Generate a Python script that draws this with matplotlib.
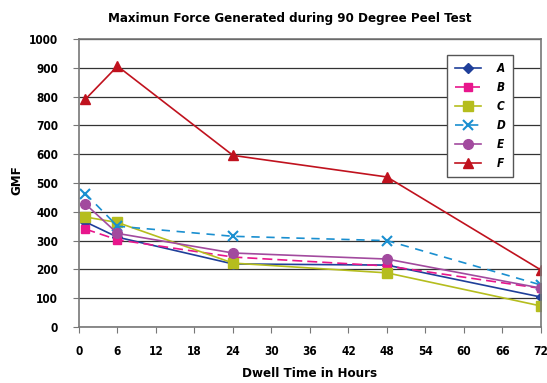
import numpy as np
import matplotlib.pyplot as plt

hours = [1, 6, 24, 48, 72]
series = {
    'A': [365, 312, 219, 215, 104],
    'B': [340, 303, 243, 212, 134],
    'C': [382, 363, 222, 188, 73],
    'D': [463, 350, 315, 300, 146],
    'E': [427, 325, 257, 236, 135],
    'F': [791, 906, 596, 521, 198],
}
styles = {
    'A': dict(color='#1f3f9a', marker='D', ls='-', ms=5),
    'B': dict(color='#e8168c', marker='s', ls=(0, (6, 3)), ms=6),
    'C': dict(color='#b5bd1e', marker='s', ls='-', ms=7),
    'D': dict(color='#1a8fd0', marker='x', ls=(0, (5, 4)), ms=7, mew=1.5),
    'E': dict(color='#a24a9e', marker='o', ls='-', ms=7),
    'F': dict(color='#c0121e', marker='^', ls='-', ms=7),
}
xticks = np.arange(0, 73, 6)
yticks = np.arange(0, 1001, 100)

plt.rcParams['font.family'] = ['DejaVu Sans Condensed', 'Liberation Sans Narrow', 'DejaVu Sans']
plt.rcParams['font.stretch'] = 'condensed'
plt.rcParams['font.weight'] = 'bold'

fig = plt.figure(figsize=(5.47, 3.83), dpi=100)
ax = fig.add_axes([0.1444, 0.1462, 0.8446, 0.7518])

for name, vals in series.items():
    ax.plot(hours, vals, label=name, lw=1.2, **styles[name])

ax.set_xlim(0, 72)
ax.set_ylim(0, 1000)
ax.set_xticks(xticks)
ax.set_yticks(yticks)
ax.yaxis.grid(True, color='#333333', lw=0.9)
ax.set_axisbelow(True)
for s in ax.spines.values():
    s.set_color('#777777')
    s.set_linewidth(1.2)
ax.tick_params(axis='both', labelsize=8.5, colors='#777777', labelcolor='black', length=4)
ax.tick_params(axis='x', pad=9)
ax.tick_params(axis='y', pad=11)
for lab in ax.get_xticklabels() + ax.get_yticklabels():
    lab.set_fontweight('bold')

fig.text(0.53, 0.953, 'Maximun Force Generated during 90 Degree Peel Test', fontsize=9.5,
         fontweight='bold', ha='center', va='center')
fig.text(0.566, 0.024, 'Dwell Time in Hours', fontsize=9.5, fontweight='bold',
         ha='center', va='center')
fig.text(0.03, 0.53, 'GMF', fontsize=9.5, fontweight='bold', rotation=90,
         ha='center', va='center')

leg = ax.legend(loc='upper right', bbox_to_anchor=(0.952, 0.965), frameon=True, fancybox=False,
                edgecolor='#555555', framealpha=1, markerfirst=True, handlelength=2.2,
                labelspacing=0.5, borderpad=0.6, handletextpad=1.4, fontsize=8.5)
leg.get_frame().set_linewidth(1)
for t in leg.get_texts():
    t.set_fontstyle('italic')
    t.set_fontweight('bold')

fig.savefig('out.png', dpi=100)
